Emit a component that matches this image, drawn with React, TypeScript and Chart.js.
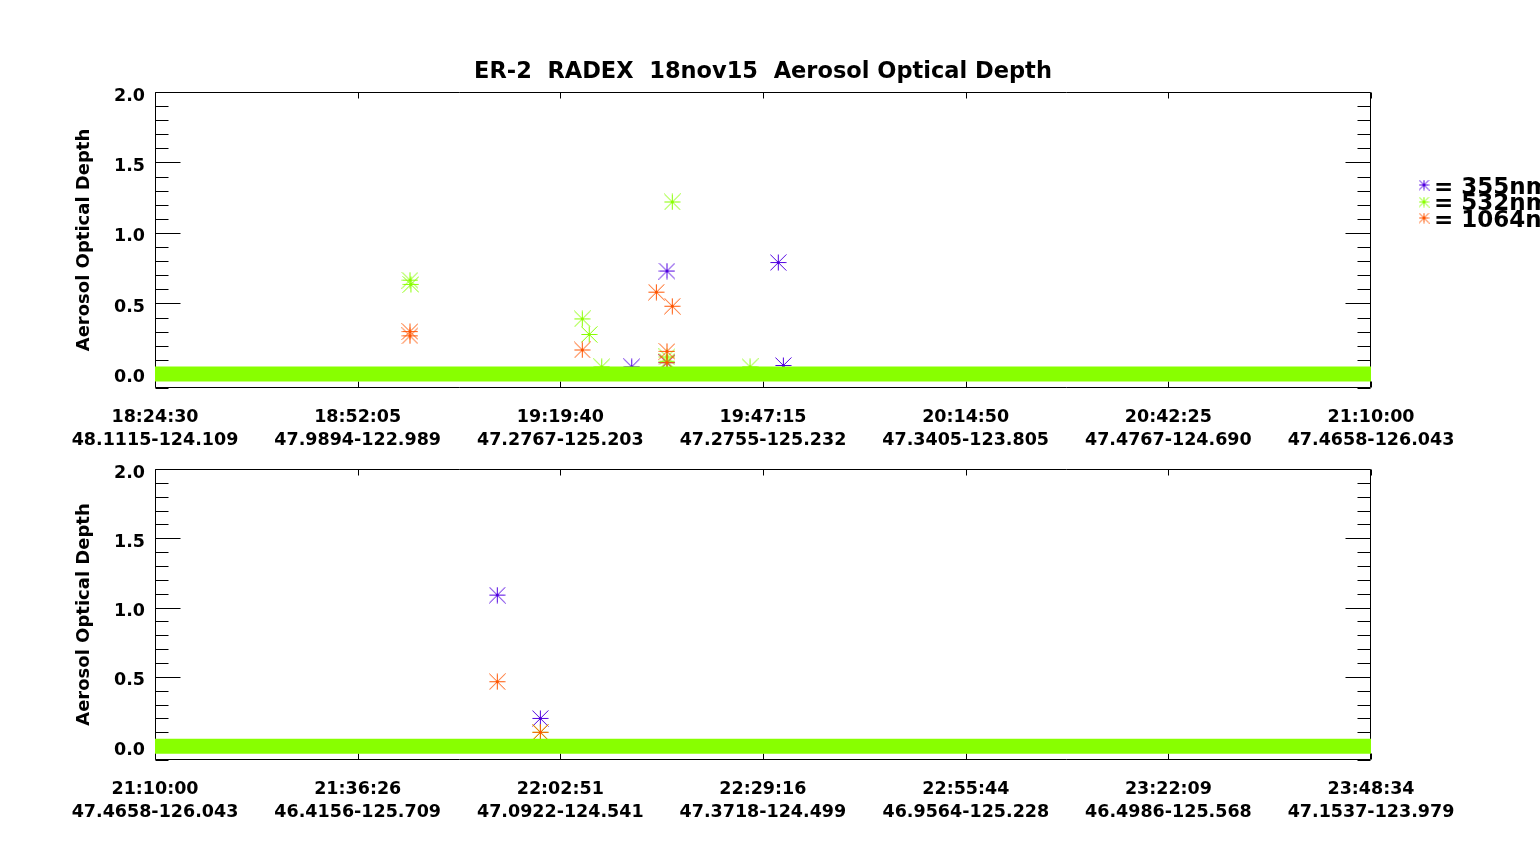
import React, { useEffect, useRef } from 'react';
import { Chart, registerables } from 'chart.js';

Chart.register(...registerables);

const FONT = '"DejaVu Sans", "Liberation Sans", sans-serif';
const BLUE = '#5000e0';
const GREEN = '#88ff00';
const ORANGE = '#ff5500';

const chartTitle = 'ER-2  RADEX  18nov15  Aerosol Optical Depth';
const yAxisTitle = 'Aerosol Optical Depth';
const legendLabels = ['355nm', '532nm', '1064nm'];
const legendColors = [BLUE, GREEN, ORANGE];

// x axis ticks (time + lat/lon of aircraft)
const topTickTimes = ['18:24:30', '18:52:05', '19:19:40', '19:47:15', '20:14:50', '20:42:25', '21:10:00'];
const topTickCoords = ['48.1115-124.109', '47.9894-122.989', '47.2767-125.203', '47.2755-125.232', '47.3405-123.805', '47.4767-124.690', '47.4658-126.043'];
const bottomTickTimes = ['21:10:00', '21:36:26', '22:02:51', '22:29:16', '22:55:44', '23:22:09', '23:48:34'];
const bottomTickCoords = ['47.4658-126.043', '46.4156-125.709', '47.0922-124.541', '47.3718-124.499', '46.9564-125.228', '46.4986-125.568', '47.1537-123.979'];

// y axis
const yMin = -0.1;
const yMax = 2.0;
const yStep = 0.1;

// top panel observations
const top355Times = ['19:29:23', '19:34:11', '19:34:11', '19:49:20', '19:50:01'];
const top355Values = [0.05, 0.73, 0.08, 0.79, 0.06];
const top532Times = ['18:59:12', '18:59:20', '19:22:39', '19:23:36', '19:25:18', '19:34:11', '19:34:11', '19:34:54', '19:45:29'];
const top532Values = [0.665, 0.635, 0.39, 0.28, 0.05, 0.12, 0.09, 1.22, 0.05];
const top1064Times = ['18:59:12', '18:59:12', '19:22:39', '19:32:44', '19:34:11', '19:34:54', '19:34:11'];
const top1064Values = [0.30, 0.27, 0.17, 0.58, 0.16, 0.48, 0.08];

// bottom panel observations
const bottom355Times = ['21:54:38', '22:00:15'];
const bottom355Values = [1.09, 0.20];
const bottom532Times = ['22:00:15'];
const bottom532Values = [0.10];
const bottom1064Times = ['21:54:38', '22:00:15'];
const bottom1064Values = [0.465, 0.10];

// near-zero 532nm readings that form the solid band along the whole flight
const zeroBandValue = 0;

const toSec = (s: string) => {
  const [h, m, sec] = s.split(':').map(Number);
  return h * 3600 + m * 60 + sec;
};

const pts = (times: string[], values: number[]) =>
  times.map((t, i) => ({ x: toSec(t), y: values[i] }));

const isMajorY = (v: number) => Math.abs(v * 2 - Math.round(v * 2)) < 1e-6;

// IDL-style asterisk marker (square diagonals, centre dot)
const makeStar = (color: string, size: number) => {
  const c = document.createElement('canvas');
  c.width = size;
  c.height = size;
  const g = c.getContext('2d')!;
  const m = size / 2;
  const e = size - 0.5;
  g.strokeStyle = color;
  g.lineWidth = 1;
  g.beginPath();
  g.moveTo(0.5, m);
  g.lineTo(e, m);
  g.moveTo(m, 0.5);
  g.lineTo(m, e);
  g.moveTo(0.5, 0.5);
  g.lineTo(e, e);
  g.moveTo(e, 0.5);
  g.lineTo(0.5, e);
  g.stroke();
  g.fillStyle = color;
  g.fillRect(m - 1.5, m - 1.5, 3, 3);
  return c;
};

const framePlugin = {
  id: 'idlFrame',
  beforeDatasetsDraw(chart: any) {
    const { ctx, chartArea: a, scales } = chart;
    const L = Math.round(a.left) + 0.5;
    const R = Math.round(a.right) - 0.5;
    const T = Math.round(a.top) + 0.5;
    const B = Math.round(a.bottom) - 0.5;
    ctx.save();
    ctx.strokeStyle = '#000';
    ctx.lineWidth = 1;
    ctx.beginPath();
    ctx.rect(L, T, R - L, B - T);
    scales.y.ticks.forEach((t: any) => {
      const py = Math.round(scales.y.getPixelForValue(t.value)) + 0.5;
      const len = isMajorY(t.value) ? 25 : 13;
      ctx.moveTo(L, py);
      ctx.lineTo(L + len, py);
      ctx.moveTo(R, py);
      ctx.lineTo(R - len, py);
    });
    scales.x.ticks.forEach((t: any) => {
      const px = Math.round(scales.x.getPixelForValue(t.value)) + 0.5;
      ctx.moveTo(px, B);
      ctx.lineTo(px, B - 6);
      ctx.moveTo(px, T);
      ctx.lineTo(px, T + 6);
    });
    ctx.stroke();
    ctx.restore();
  },
};

const legendPlugin = {
  id: 'nmLegend',
  afterDraw(chart: any) {
    const ctx = chart.ctx;
    ctx.save();
    legendLabels.forEach((lab, i) => {
      const cy = 185 + i * 16.5;
      const icon = makeStar(legendColors[i], 11);
      ctx.drawImage(icon, 1424 - 5.5, Math.round(cy) - 5.5);
      ctx.fillStyle = '#000';
      ctx.font = `bold 23px ${FONT}`;
      ctx.textBaseline = 'alphabetic';
      ctx.textAlign = 'left';
      ctx.fillText('= ' + lab, 1434, cy + 8.5);
    });
    ctx.restore();
  },
};

interface PanelProps {
  top: number;
  height: number;
  padTop: number;
  axisHeight: number;
  tickTimes: string[];
  tickCoords: string[];
  s355: { x: number; y: number }[];
  s532: { x: number; y: number }[];
  s1064: { x: number; y: number }[];
  withTitle: boolean;
}

const Panel: React.FC<PanelProps> = ({ top, height, padTop, axisHeight, tickTimes, tickCoords, s355, s532, s1064, withTitle }) => {
  const canvasRef = useRef<HTMLCanvasElement>(null);

  useEffect(() => {
    if (!canvasRef.current) return;
    const tickSecs = tickTimes.map(toSec);
    const xMin = tickSecs[0];
    const xMax = tickSecs[tickSecs.length - 1];
    const yTicks: number[] = [];
    for (let k = 0; k <= Math.round((yMax - yMin) / yStep); k++) {
      yTicks.push(Math.round((yMin + k * yStep) * 10) / 10);
    }
    const star = (color: string) => ({
      pointStyle: makeStar(color, 17),
      pointRadius: 8,
      borderColor: color,
      backgroundColor: color,
      borderWidth: 1,
      showLine: false,
    });
    const tickFont = { family: FONT, size: 17.5, weight: 'bold' as const, lineHeight: 1.31 };

    const chart = new Chart(canvasRef.current, {
      type: 'scatter',
      data: {
        datasets: [
          {
            label: '532nm zero',
            data: [{ x: xMin, y: zeroBandValue }, { x: xMax, y: zeroBandValue }],
            showLine: true,
            borderColor: GREEN,
            borderWidth: 15,
            borderCapStyle: 'butt',
            pointRadius: 0,
          } as any,
          { label: '1064nm', data: s1064, ...star(ORANGE) },
          { label: '532nm', data: s532, ...star(GREEN) },
          { label: '355nm', data: s355, ...star(BLUE) },
        ],
      },
      options: {
        responsive: false,
        maintainAspectRatio: false,
        animation: false,
        events: [],
        layout: { padding: { left: 0, right: 1540 - 1371, top: padTop, bottom: 0 } },
        scales: {
          x: {
            type: 'linear',
            min: xMin,
            max: xMax,
            grid: { display: false, drawTicks: false },
            border: { display: false },
            afterBuildTicks: (s: any) => {
              s.ticks = tickSecs.map((v) => ({ value: v }));
            },
            afterFit: (s: any) => {
              s.height = axisHeight;
              s.paddingLeft = 0;
              s.paddingRight = 0;
            },
            ticks: {
              autoSkip: false,
              maxRotation: 0,
              minRotation: 0,
              padding: 18,
              color: '#000',
              font: tickFont,
              callback: (_v: any, i: number) => [tickTimes[i], tickCoords[i]],
            },
          },
          y: {
            type: 'linear',
            min: yMin,
            max: yMax,
            grid: { display: false, drawTicks: false },
            border: { display: false },
            afterBuildTicks: (s: any) => {
              s.ticks = yTicks.map((v) => ({ value: v }));
            },
            afterFit: (s: any) => {
              s.width = 155;
              s.paddingTop = 0;
              s.paddingBottom = 0;
            },
            title: {
              display: true,
              text: yAxisTitle,
              color: '#000',
              font: { family: FONT, size: 18, weight: 'bold' },
              padding: { top: 74, bottom: 0 },
            },
            ticks: {
              autoSkip: false,
              padding: 10,
              labelOffset: 4,
              color: '#000',
              font: tickFont,
              callback: (v: any) => {
                const n = Number(v);
                return n >= 0 && isMajorY(n) ? n.toFixed(1) : '';
              },
            },
          },
        },
        plugins: {
          legend: { display: false },
          tooltip: { enabled: false },
          title: {
            display: withTitle,
            text: chartTitle,
            color: '#000',
            fullSize: false,
            font: { family: FONT, size: 22.5, weight: 'bold', lineHeight: 1.2 },
            padding: { top: 59, bottom: 6 },
          },
        },
      },
      plugins: withTitle ? [framePlugin, legendPlugin] : [framePlugin],
    } as any);

    return () => chart.destroy();
  }, []);

  return (
    <canvas
      ref={canvasRef}
      width={1540}
      height={height}
      style={{ position: 'absolute', left: 0, top, width: 1540, height }}
    />
  );
};

export default function App() {
  return (
    <div style={{ position: 'fixed', left: 0, top: 0, width: 1540, height: 845, background: '#fff', overflow: 'hidden' }}>
      <Panel
        top={0}
        height={460}
        padTop={0}
        axisHeight={72}
        tickTimes={topTickTimes}
        tickCoords={topTickCoords}
        s355={pts(top355Times, top355Values)}
        s532={pts(top532Times, top532Values)}
        s1064={pts(top1064Times, top1064Values)}
        withTitle={true}
      />
      <Panel
        top={460}
        height={385}
        padTop={4}
        axisHeight={85}
        tickTimes={bottomTickTimes}
        tickCoords={bottomTickCoords}
        s355={pts(bottom355Times, bottom355Values)}
        s532={pts(bottom532Times, bottom532Values)}
        s1064={pts(bottom1064Times, bottom1064Values)}
        withTitle={false}
      />
    </div>
  );
}
